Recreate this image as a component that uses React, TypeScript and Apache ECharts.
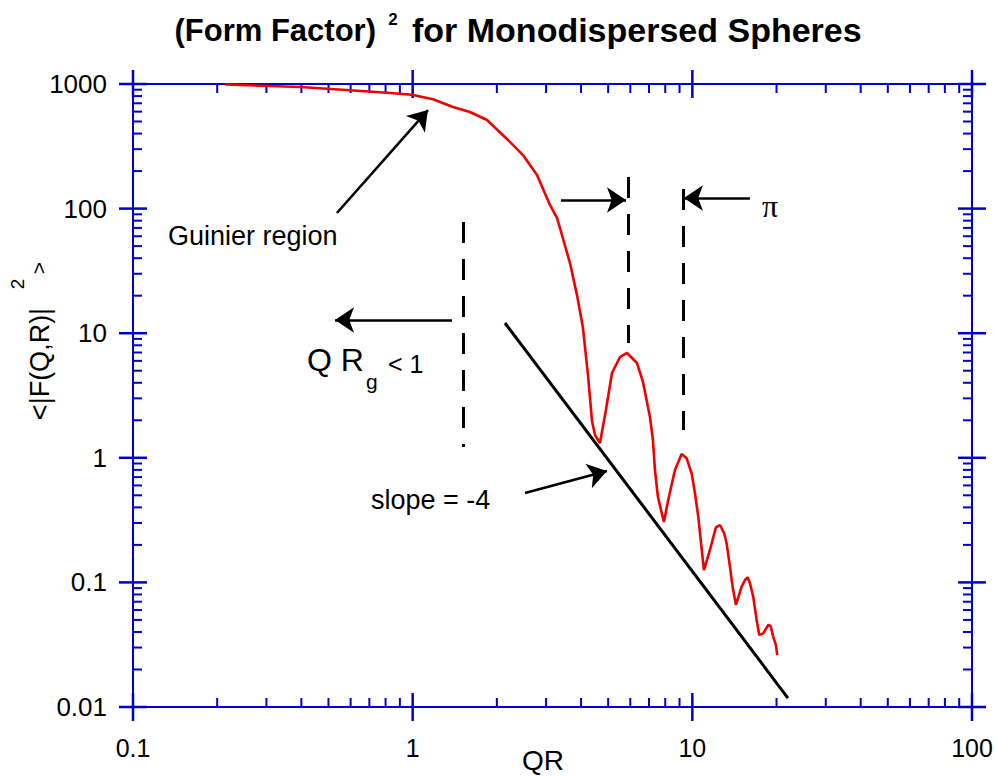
import React, { useEffect, useRef } from "react";
import * as echarts from "echarts";

// ---- data ----
const QR = [0.213, 0.396, 0.597, 0.809, 0.994, 1.182, 1.393, 1.603, 1.844, 2.174, 2.48, 2.783, 3.097, 3.281, 3.419, 3.651, 3.868, 4.064, 4.235, 4.377, 4.486, 4.674, 4.91, 5.16, 5.511, 5.838, 6.338, 6.66, 7.054, 7.23, 7.35, 7.534, 7.914, 8.199, 8.667, 9.157, 9.541, 9.943, 10.22, 10.5, 11.0, 11.56, 12.14, 12.55, 13.0, 13.26, 13.63, 13.93, 14.32, 15.01, 15.43, 15.77, 16.07, 16.51, 16.98, 17.35, 17.93, 18.68, 19.05, 19.46, 19.9, 20.12];
const F2 = [991, 946, 890, 851, 820, 754, 654, 596, 514, 362, 269, 186, 106.9, 84.1, 61.4, 36.6, 20.3, 11.0, 4.62, 1.974, 1.524, 1.315, 2.419, 4.79, 6.44, 6.94, 5.77, 4.06, 2.125, 1.389, 0.798, 0.4847, 0.3053, 0.4585, 0.798, 1.073, 0.991, 0.751, 0.519, 0.3368, 0.1257, 0.182, 0.2768, 0.2888, 0.2478, 0.206, 0.1337, 0.0924, 0.0659, 0.0924, 0.1045, 0.1099, 0.0984, 0.0768, 0.0499, 0.0378, 0.039, 0.0455, 0.0447, 0.0367, 0.0315, 0.0261];

const SLOPE_LINE = [[2.138, 12.08], [21.97, 0.0118]];

const GUINIER_ARROW = [[0.536, 92.2], [1.134, 618]];
const QRG_ARROW = [[1.382, 12.76], [0.5275, 12.76]];
const SLOPE_ARROW = [[2.52, 0.522], [4.95, 0.783]];
const PERIOD_ARROW_L = [[3.39, 117.2], [5.79, 117.2]];
const PERIOD_ARROW_R = [[16.07, 121.6], [9.33, 121.6]];

const QRG_DASH = [[1.513, 78.1], [1.513, 1.221]];
const PERIOD_DASH_L = [[5.886, 179.3], [5.886, 8.34]];
const PERIOD_DASH_R = [[9.26, 143.6], [9.26, 1.672]];

const X_MIN = 0.1, X_MAX = 100;
const Y_MIN = 0.01, Y_MAX = 1000;
const X_MAJOR = [0.1, 1, 10, 100];
const Y_MAJOR = [0.01, 0.1, 1, 10, 100, 1000];
const X_TICK_LABELS = ["0.1", "1", "10", "100"];
const Y_TICK_LABELS = ["0.01", "0.1", "1", "10", "100", "1000"];
const MINOR_MULT = [2, 3, 4, 5, 6, 7, 8, 9];

const BLUE = "#0000cc";
const FONT = "'Liberation Sans', Arial, sans-serif";

function minorTicks(majors: number[]) {
  const out: number[] = [];
  for (let i = 0; i < majors.length - 1; i++) {
    for (const m of MINOR_MULT) out.push(majors[i] * m);
  }
  return out;
}

function labelFor(v: number, majors: number[], labels: string[]) {
  let best = 0;
  let bd = Infinity;
  majors.forEach((m, i) => {
    const d = Math.abs(Math.log10(v) - Math.log10(m));
    if (d < bd) { bd = d; best = i; }
  });
  return bd < 0.01 ? labels[best] : "";
}

export default function App() {
  const ref = useRef<HTMLDivElement>(null);
  useEffect(() => {
    if (!ref.current) return;
    const chart = echarts.init(ref.current, null, { renderer: "svg" });

    const xTickData = [
      ...X_MAJOR.map((v) => [v, 1, 1]),
      ...minorTicks(X_MAJOR).map((v) => [v, 1, 0]),
    ];
    const yTickData = [
      ...Y_MAJOR.map((v) => [1, v, 1]),
      ...minorTicks(Y_MAJOR).map((v) => [1, v, 0]),
    ];

    const seg = (coords: number[][]) => ({ coords });

    chart.setOption({
      animation: false,
      backgroundColor: "#fff",
      grid: {
        left: 133, right: 24, top: 84, bottom: 69,
        show: true, borderColor: BLUE, borderWidth: 2, backgroundColor: "transparent",
      },
      xAxis: {
        type: "log", logBase: 10, min: X_MIN, max: X_MAX,
        axisLine: { show: false }, axisTick: { show: false }, splitLine: { show: false },
        axisLabel: {
          fontSize: 25, color: "#000", fontFamily: FONT, margin: 28,
          formatter: (v: number) => labelFor(v, X_MAJOR, X_TICK_LABELS),
        },
      },
      yAxis: {
        type: "log", logBase: 10, min: Y_MIN, max: Y_MAX,
        axisLine: { show: false }, axisTick: { show: false }, splitLine: { show: false },
        axisLabel: {
          fontSize: 26, color: "#000", fontFamily: FONT, margin: 26,
          formatter: (v: number) => labelFor(v, Y_MAJOR, Y_TICK_LABELS),
        },
      },
      series: [
        {
          type: "custom", coordinateSystem: "cartesian2d", silent: true, clip: false,
          data: xTickData,
          renderItem: (params: any, api: any) => {
            const v = api.value(0);
            const major = api.value(2) === 1;
            const b = api.coord([v, Y_MIN]);
            const t = api.coord([v, Y_MAX]);
            const inn = major ? 14 : 9;
            const out = major ? 14 : 0;
            const st = { stroke: BLUE, lineWidth: major ? 2.5 : 2 };
            return {
              type: "group",
              children: [
                { type: "line", shape: { x1: b[0], y1: b[1] + out, x2: b[0], y2: b[1] - inn }, style: st },
                { type: "line", shape: { x1: t[0], y1: t[1] - out, x2: t[0], y2: t[1] + inn }, style: st },
              ],
            };
          },
        },
        {
          type: "custom", coordinateSystem: "cartesian2d", silent: true, clip: false,
          data: yTickData,
          renderItem: (params: any, api: any) => {
            const v = api.value(1);
            const major = api.value(2) === 1;
            const l = api.coord([X_MIN, v]);
            const r = api.coord([X_MAX, v]);
            const inn = major ? 14 : 9;
            const out = major ? 14 : 0;
            const st = { stroke: BLUE, lineWidth: major ? 2.5 : 2 };
            return {
              type: "group",
              children: [
                { type: "line", shape: { x1: l[0] - out, y1: l[1], x2: l[0] + inn, y2: l[1] }, style: st },
                { type: "line", shape: { x1: r[0] + out, y1: r[1], x2: r[0] - inn, y2: r[1] }, style: st },
              ],
            };
          },
        },
        {
          type: "line", data: SLOPE_LINE, showSymbol: false, symbol: "none",
          lineStyle: { color: "#000", width: 3 }, silent: true, z: 3,
        },
        {
          type: "line", data: QR.map((q, i) => [q, F2[i]]), showSymbol: false, symbol: "none",
          lineStyle: { color: "#f00000", width: 2.6 }, silent: true, z: 4,
        },
        {
          type: "lines", coordinateSystem: "cartesian2d", silent: true, z: 5,
          symbol: ["none", "arrow"], symbolSize: 19,
          lineStyle: { color: "#000", width: 2.6, opacity: 1 },
          data: [GUINIER_ARROW, QRG_ARROW, SLOPE_ARROW, PERIOD_ARROW_L, PERIOD_ARROW_R].map(seg),
        },
        {
          type: "lines", coordinateSystem: "cartesian2d", silent: true, z: 5,
          symbol: ["none", "none"],
          lineStyle: { color: "#000", width: 3, type: [21, 16], opacity: 1 },
          data: [QRG_DASH, PERIOD_DASH_L, PERIOD_DASH_R].map(seg),
        },
      ],
      graphic: [
        { type: "text", x: 376, y: 30, style: { text: "(Form Factor)", font: `bold 31px ${FONT}`, fill: "#000", textAlign: "right", textVerticalAlign: "middle" } },
        { type: "text", x: 393, y: 19, style: { text: "2", font: `bold 17px ${FONT}`, fill: "#000", textAlign: "center", textVerticalAlign: "middle" } },
        { type: "text", x: 412, y: 30, style: { text: "for Monodispersed Spheres", font: `bold 34px ${FONT}`, fill: "#000", textAlign: "left", textVerticalAlign: "middle" } },
        { type: "text", x: 543, y: 760, style: { text: "QR", font: `28px ${FONT}`, fill: "#000", textAlign: "center", textVerticalAlign: "middle" } },
        { type: "text", x: 40, y: 364, rotation: Math.PI / 2, style: { text: "<|F(Q,R)|", font: `27px ${FONT}`, fill: "#000", textAlign: "center", textVerticalAlign: "middle" } },
        { type: "text", x: 17, y: 284, rotation: Math.PI / 2, style: { text: "2", font: `19px ${FONT}`, fill: "#000", textAlign: "center", textVerticalAlign: "middle" } },
        { type: "text", x: 38, y: 268, rotation: Math.PI / 2, style: { text: ">", font: `21px ${FONT}`, fill: "#000", textAlign: "center", textVerticalAlign: "middle" } },
        { type: "text", x: 168, y: 236, style: { text: "Guinier region", font: `27px ${FONT}`, fill: "#000", textAlign: "left", textVerticalAlign: "middle" } },
        { type: "text", x: 371, y: 500, style: { text: "slope = -4", font: `27px ${FONT}`, fill: "#000", textAlign: "left", textVerticalAlign: "middle" } },
        { type: "text", x: 307, y: 360, style: { text: "Q R", font: `32px ${FONT}`, fill: "#000", textAlign: "left", textVerticalAlign: "middle" } },
        { type: "text", x: 366, y: 381, style: { text: "g", font: `21px ${FONT}`, fill: "#000", textAlign: "left", textVerticalAlign: "middle" } },
        { type: "text", x: 388, y: 364, style: { text: "< 1", font: `25px ${FONT}`, fill: "#000", textAlign: "left", textVerticalAlign: "middle" } },
        { type: "text", x: 770, y: 206, style: { text: "π", font: `32px 'Liberation Serif', 'Times New Roman', serif`, fill: "#000", textAlign: "center", textVerticalAlign: "middle" } },
      ],
    });
    return () => chart.dispose();
  }, []);
  return (
    <div
      ref={ref}
      style={{ position: "fixed", left: 0, top: 0, width: 996, height: 776, background: "#fff" }}
    />
  );
}
